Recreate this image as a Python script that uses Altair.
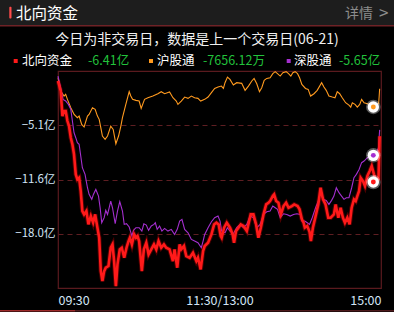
import altair as alt
import pandas as pd

FONT = "Noto Sans CJK SC"

# ---- data (values in 亿, time in minutes since 09:30, trading minutes) ----
north = [(0,0.16),(2,-1.03),(3.3,-4.01),(4.5,-3.41),(5.7,-3.41),(7,-4.60),(8.2,-5.20),(9.5,-6.58),(10.7,-7.37),(11.9,-8.56),(13.2,-10.94),(14.4,-11.54),(15.7,-11.34),(16.9,-12.92),(18.1,-15.30),(19.4,-15.70),(21.1,-15.30),(22.6,-16.89),(24.4,-15.90),(26.1,-16.69),(27.6,-15.70),(29.3,-17.28),(30.6,-18.47),(31.8,-22.44),(33,-23.63),(34.3,-22.44),(35.5,-22.04),(37.5,-21.84),(39.2,-19.66),(40.5,-19.27),(41.7,-21.25),(43,-24.22),(44.2,-21.64),(45.9,-19.86),(47.4,-19.66),(49.2,-20.85),(50.9,-19.66),(52.4,-18.87),(53.4,-18.47),(54.9,-19.27),(56.6,-18.08),(57.9,-18.47),(59.1,-18.27),(60.3,-18.9),(62.3,-22.44),(63.8,-19.86),(65.6,-19.07),(67.3,-20.45),(69.3,-19.86),(71.3,-19.27),(73,-19.86),(74.7,-18.87),(76.7,-19.66),(78.7,-19.27),(80.4,-19.66),(82.9,-19.86),(85.4,-21.25),(86.6,-19.86),(88.6,-22.04),(90.4,-19.27),(91.6,-19.86),(93.6,-19.46),(95.3,-20.65),(97.8,-20.85),(100.3,-20.26),(102.8,-21.25),(104,-20.85),(106,-22.24),(107.8,-20.06),(109,-19.46),(111.5,-19.07),(114,-18.08),(116,-16.89),(117.7,-16.69),(119.4,-16.89),(120.9,-18.27),(121.6,-18.47),(123.4,-17.28),(125.4,-16.69),(127.8,-17.28),(129.8,-18.08),(130.8,-19.07),(132.3,-17.68),(134.1,-17.28),(135.8,-16.89),(137.8,-17.08),(140.3,-17.68),(143.2,-15.70),(145.2,-15.70),(147.2,-16.89),(148.9,-18.47),(150.7,-17.28),(152.7,-15.70),(154.7,-14.51),(156.4,-14.31),(157.6,-14.11),(159.6,-13.52),(160.6,-13.32),(162.1,-14.11),(163.8,-14.31),(165.6,-15.70),(167.6,-14.71),(169.5,-14.31),(171.3,-14.91),(173.8,-14.71),(175.5,-14.51),(178,-14.71),(179.5,-15.10),(181.2,-16.29),(182.5,-16.69),(183.4,-17.28),(185.2,-17.08),(186.9,-17.76),(187.9,-18.87),(189.4,-17.28),(191.4,-15.90),(193.4,-14.51),(195.1,-12.53),(196.9,-13.91),(198.8,-14.51),(200.8,-16.09),(202.6,-16.09),(205,-15.70),(206.3,-14.51),(208.3,-16.09),(210,-14.91),(211.7,-16.09),(213.2,-16.69),(215,-16.09),(216.7,-16.89),(218.2,-14.91),(219.9,-13.91),(221.2,-14.11),(222.4,-13.52),(223.7,-12.92),(224.9,-11.34),(226.6,-11.73),(228.1,-12.33),(229.9,-11.14),(231.6,-10.55),(233.1,-9.95),(234.8,-10.94),(236.6,-11.73),(238.1,-11.54),(239,-6.41)]

sh = [(0,0.55),(2,-1.03),(4.5,-1.63),(5.7,-1.43),(7,-2.02),(9.5,-3.01),(12,-3.81),(14.4,-4.20),(15.7,-4.01),(17.6,-5.00),(19.4,-5.31),(21.9,-4.01),(23.1,-3.81),(25.6,-3.01),(27.6,-3.21),(29.3,-4.01),(30.6,-4.40),(31.8,-5.39),(33,-6.38),(35,-6.78),(36.8,-6.38),(39.2,-5.20),(41,-5.59),(43,-7.30),(45,-6.38),(46.7,-5.20),(47.9,-4.20),(50.4,-2.62),(52.9,-1.11),(54.1,-1.63),(55.4,-2.02),(57.9,-2.14),(60.3,-2.22),(61.8,-3.09),(64.3,-2.02),(66.8,-1.83),(70.5,-1.63),(74.2,-1.35),(76.7,-1.11),(79.2,-1.35),(82.9,-1.15),(85.4,-1.83),(87.9,-2.22),(89.1,-2.62),(91.6,-2.22),(94.1,-1.75),(96.6,-1.90),(99.1,-1.63),(101.5,-1.83),(104,-1.90),(106,-2.22),(109,-2.02),(111.5,-1.75),(114,-1.23),(116.4,-0.72),(118.9,-0.56),(121.4,-0.44),(122.9,-0.72),(124.1,-0.04),(125.9,0.63),(127.8,0.35),(130.3,-0.32),(132.8,-0.04),(136.5,-0.12),(139,-0.95),(141.5,-0.44),(144,0.16),(145.7,0.47),(147.7,-0.16),(149.7,-1.11),(151.4,-0.64),(153.2,0.24),(155.1,0.47),(157.6,0.55),(159.6,1.03),(161.4,1.27),(163.1,1.03),(165.1,0.75),(167.1,1.15),(169.5,1.27),(171.3,1.03),(173,0.75),(174.5,1.15),(176.2,1.27),(178,1.03),(179.5,0.55),(181.2,-0.24),(183.9,-0.72),(185.9,-0.84),(187.7,-1.63),(190.2,-1.35),(192.6,-0.95),(195.9,-0.04),(197.6,-0.56),(199.3,-0.95),(201.3,-1.63),(203.8,-1.75),(205.8,-1.83),(207.5,-1.11),(209.3,-1.35),(211.2,-1.83),(213.7,-2.42),(216.2,-2.70),(217.5,-2.94),(218.7,-2.42),(220.7,-2.62),(222.4,-2.94),(224.2,-2.62),(225.6,-2.02),(227.4,-2.42),(229.9,-2.54),(232.4,-2.62),(234.8,-2.82),(237.3,-2.62),(238.3,-2.5),(239,-0.77)]

sz = [(0,0.75),(2,-0.64),(3.75,-2.02),(5.7,-2.22),(7.7,-2.62),(9.5,-3.21),(10.7,-4.60),(11.9,-5.99),(13.2,-6.58),(14.4,-7.18),(15.7,-7.37),(16.9,-8.76),(18.1,-10.15),(20.1,-10.94),(21.9,-12.53),(23.1,-13.32),(25.1,-13.91),(26.3,-13.32),(28.1,-12.73),(30.1,-13.52),(31.3,-14.91),(32.5,-16.69),(34.3,-16.09),(35.5,-15.22),(36.8,-15.70),(38,-14.91),(39.2,-14.11),(40.5,-14.91),(42.5,-16.81),(44.2,-15.30),(45.9,-14.19),(47.9,-15.30),(49.2,-16.89),(50.9,-16.81),(52.9,-17.20),(54.9,-18.27),(56.1,-17.60),(57.9,-17.28),(60.3,-17.28),(62.3,-17.68),(63.8,-16.81),(65.6,-16.97),(67.3,-17.60),(69.3,-17.08),(71.3,-16.89),(72.3,-16.69),(73.7,-17.48),(75.5,-17.08),(77.2,-17.68),(79.2,-17.36),(81.7,-17.68),(84.2,-17.48),(86.6,-18.08),(88.6,-17.48),(90.4,-16.49),(92.1,-16.29),(94.1,-17.48),(96.6,-17.88),(99.1,-18.67),(101.5,-18.87),(104,-19.07),(106.5,-19.66),(107.8,-18.87),(109,-18.08),(111.5,-17.28),(114,-16.57),(116.4,-16.09),(118.9,-15.90),(120.4,-16.49),(121.6,-17.68),(124.1,-17.88),(125.9,-17.28),(127.8,-17.68),(130.3,-18.00),(132.8,-17.28),(135.3,-16.89),(137.8,-17.28),(140.3,-16.89),(142.7,-15.90),(145.2,-16.09),(147.7,-17.28),(150.2,-16.89),(152.7,-15.70),(155.1,-15.38),(157.6,-15.30),(159.6,-14.71),(161.4,-14.91),(163.1,-15.10),(165.1,-16.09),(167.6,-15.62),(170,-15.70),(172.5,-15.90),(175,-15.70),(177.5,-15.62),(180,-15.70),(181.2,-16.49),(183.4,-16.49),(185.2,-16.69),(186.9,-16.89),(188.9,-16.09),(191.4,-14.91),(193.4,-14.11),(195.1,-13.12),(196.9,-13.91),(199.3,-14.03),(201.3,-14.51),(203.3,-14.03),(205,-13.52),(206.8,-12.53),(208.8,-13.12),(210.7,-13.52),(212.5,-13.91),(214.2,-13.72),(216.2,-13.72),(218.2,-12.53),(219.9,-11.34),(221.7,-10.94),(223.7,-10.35),(225.6,-9.55),(227.4,-9.36),(229.9,-8.96),(232.4,-8.76),(234.8,-8.56),(236.6,-8.37),(238.1,-7.77),(239,-5.65)]

series_names = ["北向资金", "沪股通", "深股通"]
series_colors = ["#ff1a1a", "#ff9a1f", "#a52fd0"]
legend_values = ["-6.41亿", "-7656.12万", "-5.65亿"]
marker_time = 234.3
marker_values = [-11.85, -2.93, -8.68]

y_ticks = [-5.1, -11.6, -18.0]
y_domain = [-24.45, 1.35]
x_ticks = [0, 120, 240]
x_tick_labels = ["09:30", "11:30/13:00", "15:00"]
title_text = "今日为非交易日，数据是上一个交易日(06-21)"
header_text = "北向资金"
detail_text = "详情"

rows = []
for name, pts in zip(series_names, [north, sh, sz]):
    for t, v in pts:
        rows.append({"s": name, "t": t, "v": v})
df = pd.DataFrame(rows)
mk = pd.DataFrame({"s": series_names, "t": [marker_time] * 3, "v": marker_values, "c": series_colors})

label_expr = " : ".join(
    [f"datum.value == {v} ? '{l}'" for v, l in zip(x_ticks[:-1], x_tick_labels[:-1])]
) + f" : '{x_tick_labels[-1]}'"

X = alt.X("t:Q", scale=alt.Scale(domain=[0, 240], nice=False, zero=False),
          axis=alt.Axis(values=x_ticks, labelExpr=label_expr, labelFlush=True, grid=False,
                        ticks=False, domain=False, labelPadding=6, labelFontSize=12.5,
                        labelColor="#d2e4f6", labelFont=FONT, title=None))
Y = alt.Y("v:Q", scale=alt.Scale(domain=y_domain, nice=False, zero=False),
          axis=alt.Axis(values=y_ticks, labelExpr="format(datum.value, '.1f') + '亿'",
                        grid=True, gridColor="#5e1e22", gridDash=[5, 4], gridWidth=1,
                        ticks=False, domain=False, labelPadding=3, labelFontSize=11.5,
                        labelColor="#d2e4f6", labelFont=FONT, title=None))

base = alt.Chart(df)
line_sh = base.transform_filter(alt.datum.s == series_names[1]).mark_line(
    color=series_colors[1], strokeWidth=1.1).encode(x=X, y=Y, order="t:Q")
line_sz = base.transform_filter(alt.datum.s == series_names[2]).mark_line(
    color=series_colors[2], strokeWidth=1.1).encode(x=X, y=Y, order="t:Q")
glow_n = base.transform_filter(alt.datum.s == series_names[0]).mark_line(
    color="#ff0000", strokeWidth=4.5, opacity=0.3).encode(x=X, y=Y, order="t:Q")
line_n = base.transform_filter(alt.datum.s == series_names[0]).mark_line(
    color=series_colors[0], strokeWidth=2.6).encode(x=X, y=Y, order="t:Q")

mbase = alt.Chart(mk)
halo = mbase.mark_point(filled=True, color="white", size=210, opacity=0.35, strokeWidth=0).encode(x=X, y=Y)
disc = mbase.mark_point(filled=True, color="white", size=130, opacity=1, strokeWidth=0).encode(x=X, y=Y)
dot = mbase.mark_point(filled=True, size=24, opacity=1, strokeWidth=0).encode(
    x=X, y=Y, color=alt.Color("c:N", scale=None, legend=None))

one = alt.Data(values=[{"k": 1}])

def txt(s, x, y, color, size, align="left", weight="normal"):
    return alt.Chart(alt.Data(values=[{"t": s}])).mark_text(
        align=align, baseline="middle", color=color, fontSize=size, font=FONT,
        fontWeight=weight).encode(x=alt.value(x), y=alt.value(y), text="t:N")

def rect(x, x2, y, y2, color, **kw):
    return alt.Chart(one).mark_rect(color=color, **kw).encode(
        x=alt.value(x), x2=alt.value(x2), y=alt.value(y), y2=alt.value(y2))

# origin of plot area is at page (58, 71)
OX, OY = 58, 71
decor = [
    rect(-OX, 394 - OX, -OY, 25 - OY, "#1d1d1d"),
    rect(-OX, 394 - OX, 25 - OY, 26.5 - OY, "#6e2226"),
    rect(9.3 - OX, 11.5 - OX, 6.7 - OY, 18.5 - OY, "#ff4b4b", cornerRadius=1),
    txt(header_text, 16 - OX, 13.5 - OY, "#ffffff", 15.5),
    txt(detail_text, 345 - OX, 13.5 - OY, "#8c8c8c", 14),
    txt(">", 379 - OX, 13.5 - OY, "#8c8c8c", 17),
    txt(title_text, 197 - OX, 40 - OY, "#f0f0f0", 14, align="center"),
    rect(-OX, 75 - OX, 310 - OY, 311.5 - OY, "#9e2a2a"),
    rect(75 - OX, 394 - OX, 310 - OY, 311.5 - OY, "#4e1a1c"),
]
leg_sq_x = [15.7, 151, 288.7]
leg_name_x = [22, 157, 294]
leg_val_x = [88, 203, 339]
for i in range(3):
    decor.append(rect(leg_sq_x[i] - 2 - OX, leg_sq_x[i] + 2 - OX, 59 - OY, 63 - OY, series_colors[i]))
    decor.append(txt(series_names[i], leg_name_x[i] - OX, 61 - OY, "#ffffff", 12.5))
    decor.append(txt(legend_values[i], leg_val_x[i] - OX, 61 - OY, "#22c33c", 12.5))

chart = alt.layer(
    *decor, line_sh, line_sz, glow_n, line_n, halo, disc, dot
).properties(
    width=323, height=217,
    autosize=alt.AutoSizeParams(type="none"),
    padding={"left": 58, "top": 71, "right": 13, "bottom": 24},
    background="#000000",
).configure_view(stroke="#5a1a1e", strokeWidth=1.2)

chart.save("out.html", embed_options={"renderer": "svg", "actions": False})
